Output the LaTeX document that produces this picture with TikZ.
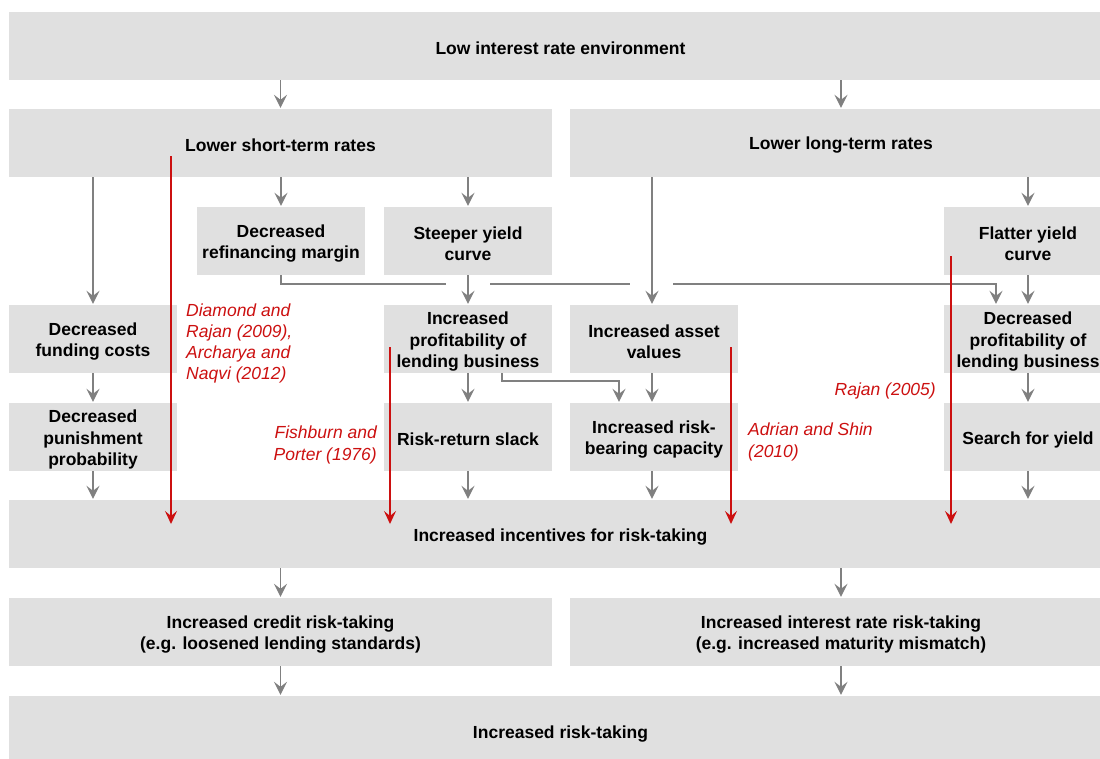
\documentclass[tikz,border=0pt]{standalone}
\usepackage{fontspec}
\setmainfont{Liberation Sans}
\usetikzlibrary{arrows.meta}
\definecolor{boxgray}{RGB}{224,224,224}
\definecolor{linegray}{RGB}{128,128,128}
\definecolor{refred}{RGB}{204,16,16}
\newcommand\mystrut{\rule{0pt}{17.7pt}}
\begin{document}
\begin{tikzpicture}[x=1pt,y=-1pt,
  box/.style={fill=boxgray, draw=none, inner sep=0pt, align=center,
    font=\bfseries\fontsize{17.5}{21.3}\selectfont, minimum height=68pt,
    execute at begin node={\mystrut}},
  reftext/.style={text=refred, inner sep=0pt, font=\itshape\fontsize{17.5}{21.3}\selectfont,
    execute at begin node={\mystrut}},
  garr/.style={draw=linegray, line width=1.5pt, shorten >=1pt,
    -{Stealth[length=13pt,width=13pt,inset=5pt]}},
  gline/.style={draw=linegray, line width=1.5pt},
  rarr/.style={draw=refred, line width=1.5pt,
    -{Stealth[length=13pt,width=12pt,inset=5pt]}}]
\useasboundingbox (0,0) rectangle (1100,758);
\clip (0,0) rectangle (1100,758);
% boxes
\node[box, minimum width=1103pt, execute at begin node={\rule{0pt}{13.5pt}}] (top) at (560.5,46) {Low interest rate environment};
\node[box, minimum width=543pt] (lst) at (280.5,143) {Lower short-term rates};
\node[box, minimum width=542pt] (llt) at (841,143) {Lower long-term rates};
\node[box, minimum width=168pt] (refin) at (281,241) {\mystrut Decreased\\refinancing margin};
\node[box, minimum width=168pt] (steep) at (468,241) {\mystrut Steeper yield\\curve};
\node[box, minimum width=168pt] (flat) at (1028,241) {\mystrut Flatter yield\\curve};
\node[box, minimum width=168pt] (funding) at (93,339) {\mystrut Decreased\\funding costs};
\node[box, minimum width=168pt] (incprof) at (468,339) {\mystrut Increased\\profitability of\\lending business};
\node[box, minimum width=168pt] (asset) at (654,339) {\mystrut Increased asset\\values};
\node[box, minimum width=168pt] (decprof) at (1028,339) {\mystrut Decreased\\profitability of\\lending business};
\node[box, minimum width=168pt] (punish) at (93,437) {\mystrut Decreased\\punishment\\probability};
\node[box, minimum width=168pt] (riskret) at (468,437) {Risk-return slack};
\node[box, minimum width=168pt] (riskbear) at (654,437) {\mystrut Increased risk-\\bearing capacity};
\node[box, minimum width=168pt] (search) at (1028,437) {Search for yield};
\node[box, minimum width=1103pt] (incent) at (560.5,534) {Increased incentives for risk-taking};
\node[box, minimum width=543pt] (credit) at (280.5,632) {\mystrut Increased credit risk-taking\\(e.g. loosened lending standards)};
\node[box, minimum width=542pt] (irrisk) at (841,632) {\mystrut Increased interest rate risk-taking\\(e.g. increased maturity mismatch)};
\node[box, minimum width=1103pt, minimum height=70pt] (final) at (560.5,731) {Increased risk-taking};
% gray arrows
\draw[garr] (top.south -| lst.north) -- (lst.north);
\draw[garr] (top.south -| llt.north) -- (llt.north);
\draw[garr] (lst.south -| funding.north) -- (funding.north);
\draw[garr] (lst.south -| refin.north) -- (refin.north);
\draw[garr] (lst.south -| steep.north) -- (steep.north);
\draw[garr] ([xshift=-2pt]llt.south -| asset.north) -- ([xshift=-2pt]asset.north);
\draw[garr] (llt.south -| flat.north) -- (flat.north);
\draw[garr] (steep.south) -- (incprof.north);
\draw[garr] (flat.south) -- (decprof.north);
\draw[garr] (funding.south) -- (punish.north);
\draw[garr] (incprof.south) -- (riskret.north);
\draw[garr] ([xshift=-2pt]asset.south) -- ([xshift=-2pt]riskbear.north);
\draw[garr] (decprof.south) -- (search.north);
\draw[garr] (punish.south) -- (punish.south |- incent.north);
\draw[garr] (riskret.south) -- (riskret.south |- incent.north);
\draw[garr] ([xshift=-2pt]riskbear.south) -- ([xshift=-2pt]riskbear.south |- incent.north);
\draw[garr] (search.south) -- (search.south |- incent.north);
\draw[garr] (incent.south -| credit.north) -- (credit.north);
\draw[garr] (incent.south -| irrisk.north) -- (irrisk.north);
\draw[garr] (credit.south) -- (credit.south |- final.north);
\draw[garr] (irrisk.south) -- (irrisk.south |- final.north);
% refinancing margin connector (with gaps at crossings)
\coordinate (g1) at (446,284);
\coordinate (g2) at (490,284);
\coordinate (g3) at (630,284);
\coordinate (g4) at (673,284);
\draw[gline] (refin.south) |- (g1);
\draw[gline] (g2) -- (g3);
\draw[garr] (g4) -| ([xshift=-32pt]decprof.north);
% profitability to risk-bearing capacity
\draw[garr] ([xshift=34pt]incprof.south) -- ++(0,8) -| ([xshift=-35pt]riskbear.north);
% red arrows
\coordinate (tipline) at (0,524);
\coordinate (r1) at (171,156);
\coordinate (r2) at (390,347);
\coordinate (r3) at (731,347);
\coordinate (r4) at (951,256);
\draw[rarr] (r1) -- (r1 |- tipline);
\draw[rarr] (r2) -- (r2 |- tipline);
\draw[rarr] (r3) -- (r3 |- tipline);
\draw[rarr] (r4) -- (r4 |- tipline);
% red references
\node[reftext, anchor=west, align=left] (dr) at (186,341) {\mystrut Diamond and\\Rajan (2009),\\Archarya and\\Naqvi (2012)};
\node[reftext, anchor=east, align=right] (fp) at (377,442.5) {\mystrut Fishburn and\\Porter (1976)};
\node[reftext, anchor=west, align=left] (as) at (748,439.5) {\mystrut Adrian and Shin\\(2010)};
\node[reftext, anchor=east] (rj) at (936,388) {Rajan (2005)};
\end{tikzpicture}
\end{document}
